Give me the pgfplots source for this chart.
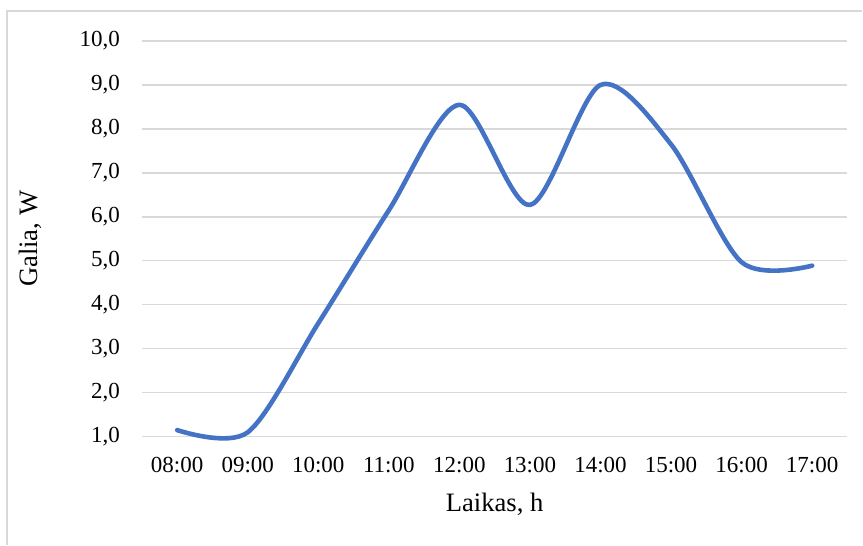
\documentclass[border=0pt]{standalone}
\usepackage{pgfplots}
\pgfplotsset{compat=1.18}
\usepackage{fontspec}
\setmainfont{Liberation Serif}
\definecolor{serieblue}{HTML}{4472C4}
\definecolor{gridgray}{HTML}{D9D9D9}
\begin{document}
\fontsize{11.5pt}{13pt}\selectfont
\begin{tikzpicture}
\begin{axis}[
  name=ax,
  scale only axis,
  width=353pt, height=198pt,
  xmin=-0.5, xmax=9.5,
  ymin=1, ymax=10,
  xtick={0,...,9},
  xticklabels={08:00,09:00,10:00,11:00,12:00,13:00,14:00,15:00,16:00,17:00},
  ytick={1,...,10},
  ymajorgrids,
  grid style={gridgray, line width=0.65pt},
  axis line style={draw=none},
  tick style={draw=none},
  clip=false,
  /pgf/number format/assume math mode=true,
  /pgf/number format/fixed,
  /pgf/number format/fixed zerofill,
  /pgf/number format/precision=1,
  /pgf/number format/use comma,
  yticklabel style={xshift=-7pt},
  xticklabel style={yshift=-6pt},
  ticklabel style={font=\fontsize{11.5pt}{13pt}\selectfont},
  label style={font=\fontsize{13.3pt}{15pt}\selectfont},
  xlabel={Laikas, h},
  ylabel={Galia, W},
  xlabel style={at={(axis description cs:0.5,0)}, anchor=center, yshift=-34pt},
  ylabel style={at={(axis description cs:0,0.5)}, anchor=center, yshift=56pt},
]
\addplot[serieblue, line width=2.3pt, line cap=round, line join=round, smooth, tension=0.5]
  coordinates {
    (0,1.15) (1,1.1) (2,3.58) (3,6.15) (4,8.55)
    (5,6.27) (6,9.0) (7,7.65) (8,4.97) (9,4.89)
  };
\end{axis}
% chart area border (top and left edges)
\draw[gridgray, line width=0.6pt] ([xshift=-67.5pt]ax.south west) ++(0,-54pt) -- ++(0,267pt) -- ++(428pt,0);
\useasboundingbox ([xshift=-71pt,yshift=-54pt]ax.south west) rectangle ([xshift=360.5pt,yshift=218.5pt]ax.south west);
\end{tikzpicture}
\end{document}
